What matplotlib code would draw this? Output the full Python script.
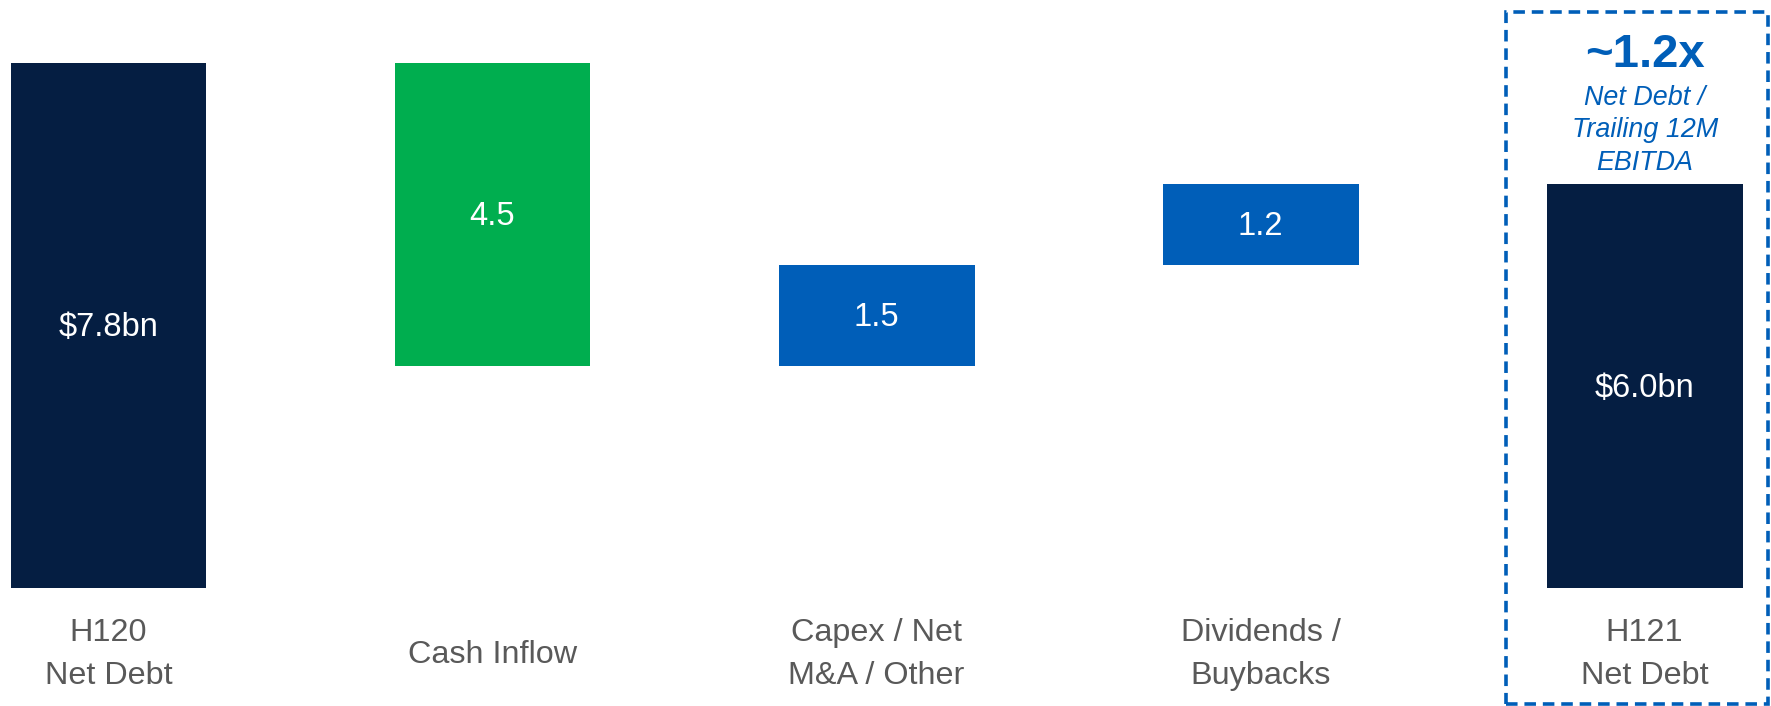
import matplotlib.pyplot as plt
from matplotlib.patches import Rectangle

categories = ['H120\nNet Debt', 'Cash Inflow', 'Capex / Net\nM&A / Other',
              'Dividends /\nBuybacks', 'H121\nNet Debt']
changes = [7.8, -4.5, 1.5, 1.2]
end_value = 6.0
value_labels = ['$7.8bn', '4.5', '1.5', '1.2', '$6.0bn']
bar_colors = ['#051e42', '#00ae4f', '#005eb8', '#005eb8', '#051e42']
multiple_text = '~1.2x'
multiple_note = 'Net Debt /\nTrailing 12M\nEBITDA'

# waterfall bottoms / heights
bottoms, heights = [], []
running = 0
for c in changes:
    if c >= 0:
        bottoms.append(running)
        heights.append(c)
    else:
        bottoms.append(running + c)
        heights.append(-c)
    running += c
bottoms.append(0)
heights.append(end_value)

plt.rcParams['font.family'] = ['Liberation Sans', 'DejaVu Sans']

fig = plt.figure(figsize=(17.71, 7.06), dpi=100)
ax = fig.add_axes([0, 0, 1, 1])
x = list(range(len(categories)))
ax.bar(x, heights, bottom=bottoms, width=0.51, color=bar_colors)

for i in x:
    ax.text(i, bottoms[i] + heights[i] / 2 - 0.03, value_labels[i], color='white',
            fontsize=23.5, ha='center', va='center')
    ax.text(i, -0.99, categories[i], color='#595959', fontsize=23.3,
            ha='center', va='center', linespacing=1.55)

# leverage annotation above the last bar
ax.text(4, 7.92, multiple_text, color='#005eb8', fontsize=34,
        fontweight='bold', ha='center', va='center')
ax.text(4, 6.80, multiple_note, color='#005eb8', fontsize=19.4,
        style='italic', ha='center', va='center', linespacing=1.34)

box = Rectangle((1506 / 1771, 2 / 706), 262 / 1771, 692 / 706,
                transform=fig.transFigure, fill=False, edgecolor='#005eb8',
                linewidth=2.6, linestyle=(0, (3.2, 1.9)))
fig.patches.append(box)

ax.set_xlim(-0.2826, 4.329)
ax.set_ylim(-1.753, 8.737)
ax.axis('off')

fig.savefig('out.png', dpi=100)
